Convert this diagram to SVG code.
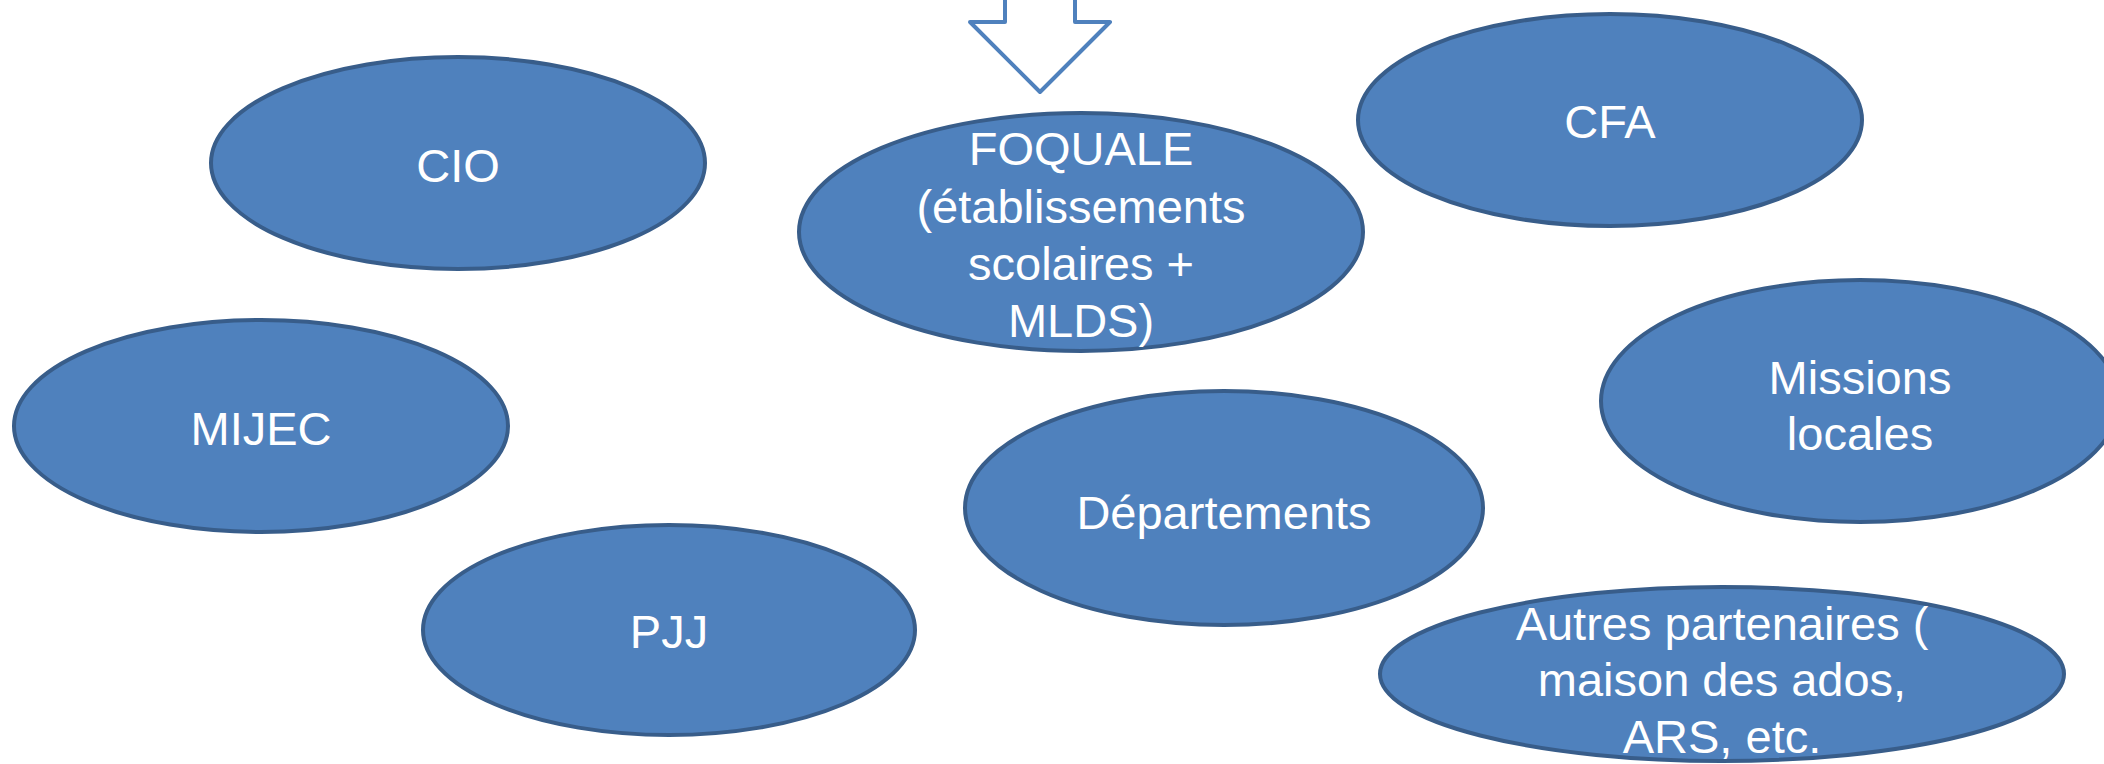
<svg xmlns="http://www.w3.org/2000/svg" width="2104" height="764" viewBox="0 0 2104 764">
<style>
.n ellipse{fill:#4f81bd;stroke:#385d8a;stroke-width:4}
.n text{fill:#ffffff;font-family:"Liberation Sans",Arial,sans-serif;font-size:47px;text-anchor:middle}
.arrow{fill:#ffffff;stroke:#4f81bd;stroke-width:4;stroke-linejoin:round}
</style>
<rect width="2104" height="764" fill="#ffffff"/>
<g id="connectors">
<path class="arrow" d="M1005,-10 L1005,22 L970,22 L1040,92 L1110,22 L1075,22 L1075,-10"/>
</g>
<g id="cio" class="n">
<ellipse cx="458" cy="163" rx="247" ry="106"/>
<text x="458" y="182">CIO</text>
</g>
<g id="foquale" class="n">
<ellipse cx="1081" cy="232" rx="282" ry="119"/>
<text x="1081" y="165">FOQUALE</text>
<text x="1081" y="223">(établissements</text>
<text x="1081" y="280">scolaires +</text>
<text x="1081" y="337">MLDS)</text>
</g>
<g id="cfa" class="n">
<ellipse cx="1610" cy="120" rx="252" ry="106"/>
<text x="1610" y="138">CFA</text>
</g>
<g id="mijec" class="n">
<ellipse cx="261" cy="426" rx="247" ry="106"/>
<text x="261" y="445">MIJEC</text>
</g>
<g id="missions-locales" class="n">
<ellipse cx="1860" cy="401" rx="259" ry="121"/>
<text x="1860" y="394">Missions</text>
<text x="1860" y="450">locales</text>
</g>
<g id="departements" class="n">
<ellipse cx="1224" cy="508" rx="259" ry="117"/>
<text x="1224" y="529">Départements</text>
</g>
<g id="pjj" class="n">
<ellipse cx="669" cy="630" rx="246" ry="105"/>
<text x="669" y="648">PJJ</text>
</g>
<g id="autres" class="n">
<ellipse cx="1722" cy="674" rx="342" ry="87"/>
<text x="1722" y="640">Autres partenaires (</text>
<text x="1722" y="696">maison des ados,</text>
<text x="1722" y="753">ARS, etc.</text>
</g>
</svg>
